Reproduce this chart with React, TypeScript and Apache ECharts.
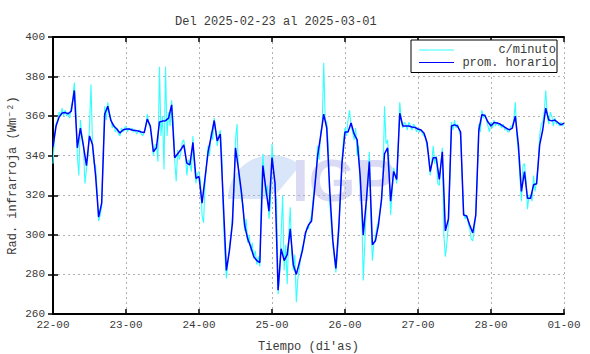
import React, { useEffect, useRef } from "react";
import * as echarts from "echarts";

const titleText = "Del 2025-02-23 al 2025-03-01";
const xTickLabels = ["22-00", "23-00", "24-00", "25-00", "26-00", "27-00", "28-00", "01-00"];
const seriesNames = ["c/minuto", "prom. horario"];

// hourly averages, one per hour from 22-00 (h=0) to 01-00 (h=168)
const hourly = [
  344.6, 355, 359.5, 361.6, 361.8, 361.2, 362.5, 373, 344, 354, 345, 335,
  350, 345.5, 330, 309, 316, 361, 365, 358, 355, 353.5, 351.5, 353,
  353.5, 353.5, 353, 352.8, 352.5, 352, 351.7, 358.5, 355, 342, 344, 357,
  357.5, 357.7, 359, 365.7, 339, 341, 343, 345.5, 336.3, 335.4, 346.7, 328.6,
  329.5, 316, 329, 342, 349.7, 357.8, 347.5, 351, 316, 282, 292, 306,
  344, 333, 321, 305, 298, 294, 289, 287, 286, 335, 323, 312,
  339, 326, 272, 293, 287, 290, 303, 285, 280, 286, 292, 301,
  305, 307, 323, 340, 350, 361, 354, 322, 297, 283, 305, 336,
  352, 352, 356.5, 351, 348, 329.5, 300, 317, 337, 295, 297, 305,
  318, 341, 344, 317, 332, 328, 361.5, 355, 355, 355, 354.5, 354.3,
  353.5, 353, 351.4, 346.4, 332, 339, 339, 328, 342, 302, 308, 355,
  355.6, 355, 352, 310, 309.5, 305, 301, 310, 353, 360.7, 360.3, 357,
  355, 356.8, 356.5, 356, 355, 354, 353, 354, 360, 345.5, 322, 332,
  318.5, 318.5, 325.3, 325.8, 345.5, 353, 364, 358, 357.6, 358, 356.8, 355.6,
  356.5,
];

// per-minute record, sampled every half hour (h = 0, 0.5, 1, ...)
const perMinute = [
  336, 350, 356, 358, 362, 360, 364, 360, 363, 360, 362, 359,
  365, 368, 377, 366, 340, 330, 358, 350, 346, 326, 333, 340,
  355, 376, 344, 336, 335, 322, 307, 310, 314, 340, 365, 358,
  367, 362, 359, 354, 356, 352, 354, 351, 350, 354, 352, 354,
  355, 352, 354, 353, 354, 352, 353, 351, 352, 353, 351, 350,
  352, 355, 361, 356, 354, 348, 340, 345, 346, 337, 385, 350,
  360, 333, 385, 350, 362, 355, 368, 358, 338, 327, 343, 338,
  341, 347, 348, 342, 330, 338, 336, 332, 350, 334, 326, 331,
  332, 327, 310, 306, 326, 336, 345, 340, 352, 348, 359, 352,
  345, 350, 353, 340, 310, 290, 278, 286, 294, 300, 310, 325,
  348, 356, 330, 325, 318, 315, 302, 308, 296, 300, 292, 296,
  288, 292, 285, 289, 284, 320, 341, 330, 320, 325, 308, 315,
  346, 334, 322, 318, 270, 280, 300, 320, 282, 295, 275, 300,
  314, 290, 282, 290, 266, 278, 283, 290, 294, 296, 299, 304,
  303, 307, 310, 318, 325, 330, 345, 338, 352, 355, 387, 358,
  357, 345, 316, 305, 295, 288, 281, 290, 302, 320, 338, 348,
  354, 350, 358, 363, 355, 352, 348, 354, 340, 345, 325, 312,
  277, 295, 315, 326, 342, 310, 287, 296, 299, 304, 307, 312,
  316, 330, 365, 346, 348, 336, 310, 322, 334, 330, 326, 345,
  367, 358, 354, 357, 356, 353, 357, 355, 353, 356, 355, 352,
  354, 352, 353, 351, 350, 349, 344, 340, 330, 336, 345, 336,
  340, 326, 325, 336, 344, 300, 289, 296, 305, 330, 357, 353,
  358, 354, 356, 353, 350, 330, 312, 308, 310, 306, 303, 298,
  297, 302, 312, 330, 356, 352, 363, 359, 361, 358, 355, 352,
  357, 354, 358, 355, 357, 355, 356, 354, 356, 353, 354, 352,
  352, 355, 355, 358, 367, 350, 342, 330, 317, 335, 336, 328,
  313, 320, 320, 317, 330, 322, 328, 335, 350, 356, 357, 362,
  373, 360, 356, 362, 360, 355, 359, 356, 357, 355, 357, 355,
  356,
];

const FONT = "'Liberation Mono', 'DejaVu Sans Mono', monospace";
const TXT = "#3a3a3a";
const LINE_ICON = "path://M0,4.4 L35,4.4 L35,5.6 L0,5.6 Z";

export default function App() {
  const ref = useRef<HTMLDivElement>(null);
  useEffect(() => {
    if (!ref.current) return;
    const chart = echarts.init(ref.current, null, { renderer: "svg" });
    const gridLine = { show: true, lineStyle: { color: "#b0b0b0", type: [2, 3] as any, width: 1 } };
    const tickIn = { show: true, inside: true, length: 5, lineStyle: { color: "#000", width: 1.5 } };
    chart.setOption({
      animation: false,
      backgroundColor: "#fff",
      title: {
        text: titleText,
        left: 170,
        top: 11,
        textStyle: { fontFamily: FONT, fontSize: 12, fontWeight: "normal", color: TXT },
      },
      legend: {
        orient: "vertical",
        right: 33,
        top: 40,
        backgroundColor: "#fff",
        borderColor: "#000",
        borderWidth: 1,
        borderRadius: 0,
        padding: [4, 1, 4, 8],
        itemGap: 0.5,
        itemWidth: 35,
        itemHeight: 9,
        icon: LINE_ICON,
        data: seriesNames,
        formatter: (name: string) => `{r|${name}}`,
        textStyle: {
          fontFamily: FONT,
          fontSize: 12,
          color: TXT,
          rich: { r: { fontFamily: FONT, fontSize: 12, color: TXT, width: 97, align: "right", lineHeight: 9 } },
        },
      },
      grid: { left: 53, right: 26, top: 37, bottom: 40, outerBoundsMode: "none", containLabel: false },
      graphic: [
        {
          type: "group",
          z: 0,
          silent: true,
          children: [
            { type: "sector", shape: { cx: 272, cy: 199, r: 44, r0: 6, startAngle: Math.PI, endAngle: Math.PI * 1.5 + 0.7 }, style: { fill: "#d9e5f8" } },
            { type: "text", x: 292, y: 150, style: { text: "IGP", fontFamily: "'Liberation Sans', sans-serif", fontWeight: "bold", fontSize: 60, fill: "#dadaf4" } },
          ],
        },
      ],
      xAxis: [
        {
          type: "value",
          min: 0,
          max: 168,
          interval: 24,
          name: "Tiempo (di'as)",
          nameLocation: "middle",
          nameGap: 27,
          nameMoveOverlap: false,
          nameTextStyle: { fontFamily: FONT, fontSize: 12, color: TXT },
          axisLine: { show: true, lineStyle: { color: "#000", width: 2 } },
          axisTick: tickIn,
          splitLine: gridLine,
          axisLabel: {
            fontFamily: FONT,
            fontSize: 11,
            color: TXT,
            margin: 5,
            formatter: (v: number) => xTickLabels[Math.round(v / 24)] ?? "",
          },
        },
        {
          type: "value",
          position: "top",
          min: 0,
          max: 168,
          interval: 24,
          axisLine: { show: true, lineStyle: { color: "#000", width: 2 } },
          axisTick: tickIn,
          splitLine: { show: false },
          axisLabel: { show: false },
        },
      ],
      yAxis: [
        {
          type: "value",
          min: 260,
          max: 400,
          interval: 20,
          name: "Rad. infrarroja (Wm⁻²)",
          nameLocation: "middle",
          nameGap: 34,
          nameMoveOverlap: false,
          nameTextStyle: { fontFamily: FONT, fontSize: 12, color: TXT },
          axisLine: { show: true, lineStyle: { color: "#000", width: 2 } },
          axisTick: tickIn,
          splitLine: gridLine,
          axisLabel: { fontFamily: FONT, fontSize: 11, color: TXT, margin: 8 },
        },
        {
          type: "value",
          position: "right",
          min: 260,
          max: 400,
          interval: 20,
          axisLine: { show: true, lineStyle: { color: "#000", width: 2 } },
          axisTick: tickIn,
          splitLine: { show: false },
          axisLabel: { show: false },
        },
      ],
      series: [
        {
          name: seriesNames[0],
          type: "line",
          symbol: "none",
          z: 2,
          lineStyle: { color: "#33ffff", width: 1.1 },
          itemStyle: { color: "#33ffff" },
          data: perMinute.map((v, i) => [i * 0.5, v]),
        },
        {
          name: seriesNames[1],
          type: "line",
          symbol: "none",
          z: 3,
          lineStyle: { color: "#0000ff", width: 1.5 },
          itemStyle: { color: "#0000ff" },
          data: hourly.map((v, i) => [i, v]),
        },
      ],
    });
    return () => chart.dispose();
  }, []);
  return <div ref={ref} style={{ position: "fixed", left: 0, top: 0, width: 590, height: 354 }} />;
}
